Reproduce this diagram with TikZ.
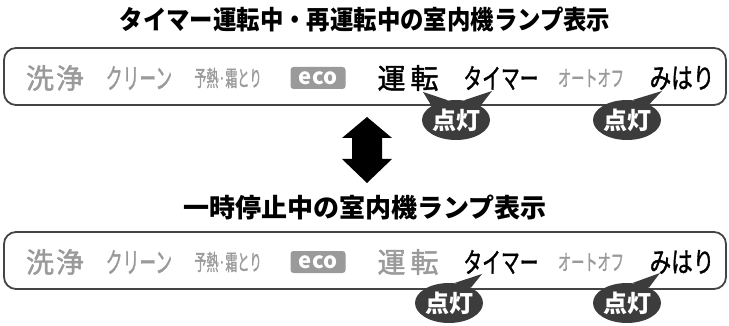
\documentclass[tikz,border=0pt]{standalone}
\usepackage{fontspec}
\setmainfont{Noto Sans CJK JP}
\newfontfamily\lampfont[FakeBold=1.5]{Noto Sans CJK JP}
\usepackage{tikz}
\usetikzlibrary{shapes.geometric}
\definecolor{lampgray}{HTML}{9A9A9A}
\definecolor{framegray}{HTML}{444444}
\definecolor{bubblegray}{HTML}{3C3C3C}

\begin{document}
\begin{tikzpicture}[x=1pt,y=-1pt,line join=round,
  title/.style={font=\fontsize{26}{28}\selectfont\bfseries,inner sep=0pt},
  lampoff/.style={text=lampgray,inner sep=0pt},
  lampon/.style={text=black,inner sep=0pt},
  panel/.style={draw=framegray,line width=1.8pt,rounded corners=12pt},
  ecobox/.style={fill=lampgray,text=white,rounded corners=3pt,minimum width=55pt,minimum height=22pt,inner sep=0pt,font=\fontsize{22}{22}\selectfont\bfseries},
  litbubble/.style={ellipse,fill=bubblegray,text=white,minimum width=68pt,minimum height=40pt,inner sep=0pt,font=\fontsize{24}{24}\selectfont\bfseries}]
  \useasboundingbox (0,0) rectangle (729,326);
  % upper panel
  \node[title,xscale=0.9] (T1) at (365,20) {タイマー運転中・再運転中の室内機ランプ表示};
  \draw[panel] (4,48) rectangle (726,105);
  \node[lampoff,font=\lampfont\fontsize{28}{28}\selectfont] (A1) at (55,78) {洗\hspace{2pt}浄};
  \node[lampoff,font=\lampfont\fontsize{28}{28}\selectfont,xscale=0.6] (A2) at (139,78) {クリーン};
  \node[lampoff,font=\lampfont\fontsize{22}{22}\selectfont,xscale=0.55] (A3) at (228,78) {予熱·霜とり};
  \node[ecobox] (A4) at (318,78) {eco};
  \node[lampon,font=\lampfont\fontsize{28}{28}\selectfont] (A5) at (408,78) {運\hspace{5pt}転};
  \node[lampon,font=\lampfont\fontsize{28}{28}\selectfont,xscale=0.67] (A6) at (501,78) {タイマー};
  \node[lampoff,font=\lampfont\fontsize{22}{22}\selectfont,xscale=0.6] (A7) at (591,78) {オートオフ};
  \node[lampon,font=\lampfont\fontsize{28}{28}\selectfont,xscale=0.77] (A8) at (682,78) {みはり};
  \node[litbubble] (L1) at (456,120) {点灯};
  \coordinate (L1a) at (423,92);
  \coordinate (L1b) at (492,91);
  \fill[bubblegray] (L1.150) -- (L1a) -- (L1.112) -- cycle;
  \fill[bubblegray] (L1.68) -- (L1b) -- (L1.30) -- cycle;
  \node[litbubble] (L2) at (627,120) {点灯};
  \coordinate (L2a) at (662,91);
  \fill[bubblegray] (L2.75) -- (L2a) -- (L2.35) -- cycle;
  % arrow between panels
  \fill (367,117) -- (392,138) -- (382,138) -- (382,159) -- (392,159) -- (367,183)
    -- (342,159) -- (352,159) -- (352,138) -- (342,138) -- cycle;
  % lower panel
  \node[title] (T2) at (365,208) {一時停止中の室内機ランプ表示};
  \draw[panel] (4,232) rectangle (726,289);
  \node[lampoff,font=\lampfont\fontsize{28}{28}\selectfont] (B1) at (55,262) {洗\hspace{2pt}浄};
  \node[lampoff,font=\lampfont\fontsize{28}{28}\selectfont,xscale=0.6] (B2) at (139,262) {クリーン};
  \node[lampoff,font=\lampfont\fontsize{22}{22}\selectfont,xscale=0.55] (B3) at (228,262) {予熱·霜とり};
  \node[ecobox] (B4) at (318,262) {eco};
  \node[lampoff,font=\lampfont\fontsize{28}{28}\selectfont] (B5) at (408,262) {運\hspace{5pt}転};
  \node[lampon,font=\lampfont\fontsize{28}{28}\selectfont,xscale=0.67] (B6) at (501,262) {タイマー};
  \node[lampoff,font=\lampfont\fontsize{22}{22}\selectfont,xscale=0.6] (B7) at (591,262) {オートオフ};
  \node[lampon,font=\lampfont\fontsize{28}{28}\selectfont,xscale=0.77] (B8) at (682,262) {みはり};
  \node[litbubble] (L3) at (449,303) {点灯};
  \coordinate (L3a) at (482,274);
  \fill[bubblegray] (L3.75) -- (L3a) -- (L3.35) -- cycle;
  \node[litbubble] (L4) at (627,303) {点灯};
  \coordinate (L4a) at (660,273);
  \fill[bubblegray] (L4.75) -- (L4a) -- (L4.35) -- cycle;
\end{tikzpicture}
\end{document}
